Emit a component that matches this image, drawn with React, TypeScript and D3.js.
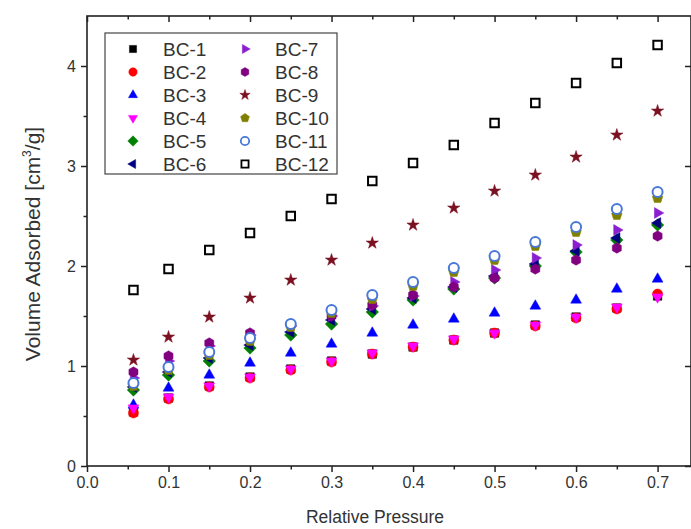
// App.tsx
import React, { useRef, useEffect } from "react";
import * as d3 from "d3";

const WIDTH = 691;
const HEIGHT = 529;
const MARGIN = { top: 16, right: 0, bottom: 63, left: 87 };

// relative pressure steps (first point read slightly above 0.05)
const pressures = [0.057, 0.1, 0.15, 0.2, 0.25, 0.3, 0.35, 0.4, 0.45, 0.5, 0.55, 0.6, 0.65, 0.7];

const bc1 = [0.54, 0.68, 0.8, 0.89, 0.97, 1.05, 1.12, 1.19, 1.26, 1.33, 1.41, 1.49, 1.58, 1.7];
const bc2 = [0.53, 0.67, 0.79, 0.88, 0.96, 1.04, 1.12, 1.19, 1.26, 1.33, 1.4, 1.48, 1.57, 1.72];
const bc3 = [0.61, 0.78, 0.91, 1.03, 1.13, 1.22, 1.33, 1.41, 1.47, 1.53, 1.6, 1.66, 1.77, 1.87];
const bc4 = [0.58, 0.69, 0.8, 0.89, 0.97, 1.05, 1.13, 1.2, 1.27, 1.33, 1.41, 1.49, 1.59, 1.69];
const bc5 = [0.76, 0.91, 1.05, 1.18, 1.31, 1.42, 1.54, 1.66, 1.77, 1.88, 2.0, 2.14, 2.26, 2.41];
const bc6 = [0.79, 0.94, 1.08, 1.21, 1.34, 1.46, 1.57, 1.68, 1.79, 1.9, 2.02, 2.15, 2.28, 2.43];
const bc7 = [0.88, 1.05, 1.2, 1.31, 1.4, 1.5, 1.6, 1.7, 1.84, 1.96, 2.08, 2.21, 2.36, 2.53];
const bc8 = [0.94, 1.1, 1.23, 1.33, 1.41, 1.5, 1.61, 1.71, 1.79, 1.88, 1.97, 2.06, 2.18, 2.3];
const bc9 = [1.06, 1.29, 1.49, 1.68, 1.86, 2.06, 2.23, 2.41, 2.58, 2.75, 2.91, 3.09, 3.31, 3.55];
const bc10 = [0.8, 0.96, 1.11, 1.25, 1.39, 1.53, 1.67, 1.8, 1.94, 2.06, 2.2, 2.34, 2.51, 2.68];
const bc11 = [0.83, 0.99, 1.14, 1.28, 1.42, 1.56, 1.71, 1.84, 1.98, 2.1, 2.24, 2.39, 2.57, 2.74];
const bc12 = [1.76, 1.97, 2.16, 2.33, 2.5, 2.67, 2.85, 3.03, 3.21, 3.43, 3.63, 3.83, 4.03, 4.21];

const seriesNames = ["BC-1", "BC-2", "BC-3", "BC-4", "BC-5", "BC-6", "BC-7", "BC-8", "BC-9", "BC-10", "BC-11", "BC-12"];
const seriesValues = [bc1, bc2, bc3, bc4, bc5, bc6, bc7, bc8, bc9, bc10, bc11, bc12];
const seriesColors = ["#000000", "#ff0000", "#0000ff", "#ff00ff", "#008000", "#000080", "#8a1fd0", "#800080", "#7a1020", "#808000", "#4a78d8", "#000000"];
const seriesShapes = ["square", "circle", "up", "down", "diamond", "left", "right", "hexagon", "star", "pentagon", "ocircle", "osquare"];

const xTicks = [0, 0.1, 0.2, 0.3, 0.4, 0.5, 0.6, 0.7];
const yTicks = [0, 1, 2, 3, 4];

const FONT = "Arial, 'Liberation Sans', sans-serif";

// regular polygon path centred at 0,0; angle in degrees of first vertex (0 = up)
function polygon(n: number, r: number, angle: number) {
  const pts: [number, number][] = [];
  for (let i = 0; i < n; i++) {
    const a = ((angle + (360 / n) * i) * Math.PI) / 180;
    pts.push([r * Math.sin(a), -r * Math.cos(a)]);
  }
  return "M" + pts.map((p) => p.join(",")).join("L") + "Z";
}

function shapePath(shape: string, r: number) {
  switch (shape) {
    case "square":
    case "osquare":
      return polygon(4, r * 1.2, 45);
    case "circle":
    case "ocircle":
      return d3.symbol(d3.symbolCircle, Math.PI * r * r)() as string;
    case "up":
      return polygon(3, r * 1.25, 0);
    case "down":
      return polygon(3, r * 1.25, 180);
    case "left":
      return polygon(3, r * 1.25, 270);
    case "right":
      return polygon(3, r * 1.25, 90);
    case "diamond":
      return polygon(4, r * 1.25, 0);
    case "hexagon":
      return polygon(6, r * 1.05, 0);
    case "pentagon":
      return polygon(5, r * 1.1, 0);
    case "star":
      return d3.symbol(d3.symbolStar, r * r * 1.9)() as string;
    default:
      return "";
  }
}

function isOpen(shape: string) {
  return shape === "ocircle" || shape === "osquare";
}

export default function App() {
  const svgRef = useRef<SVGSVGElement>(null);

  useEffect(() => {
    const svg = d3.select(svgRef.current);
    svg.selectAll("*").remove();

    const x = d3.scaleLinear().domain([0, 0.741]).range([MARGIN.left, WIDTH - MARGIN.right]);
    const y = d3.scaleLinear().domain([0, 4.5]).range([HEIGHT - MARGIN.bottom, MARGIN.top]);

    const axisColor = "#222";

    // frame
    svg
      .append("rect")
      .attr("x", x(0))
      .attr("y", y(4.5))
      .attr("width", x(0.741) - x(0))
      .attr("height", y(0) - y(4.5))
      .attr("fill", "none")
      .attr("stroke", axisColor)
      .attr("stroke-width", 1.6);

    const xMinor = d3.range(0.05, 0.74, 0.1);
    const yMinor = d3.range(0.5, 4.5, 1);

    const styleAxis = (g: any) => {
      g.select(".domain").remove();
      g.selectAll("line").attr("stroke", axisColor).attr("stroke-width", 1.5);
      g.selectAll("text").attr("font-family", FONT).attr("fill", "#333");
    };

    // bottom
    svg
      .append("g")
      .attr("transform", `translate(0,${y(0)})`)
      .call(d3.axisBottom(x).tickValues(xTicks).tickFormat(d3.format(".1f")).tickSize(6).tickPadding(5))
      .call(styleAxis)
      .selectAll("text")
      .attr("font-size", 16);
    svg
      .append("g")
      .attr("transform", `translate(0,${y(0)})`)
      .call(d3.axisBottom(x).tickValues(xMinor).tickFormat(() => "").tickSize(3.5))
      .call(styleAxis);

    // top (ticks inward)
    svg
      .append("g")
      .attr("transform", `translate(0,${y(4.5)})`)
      .call(d3.axisBottom(x).tickValues(xTicks).tickFormat(() => "").tickSize(6))
      .call(styleAxis);
    svg
      .append("g")
      .attr("transform", `translate(0,${y(4.5)})`)
      .call(d3.axisBottom(x).tickValues(xMinor).tickFormat(() => "").tickSize(3.5))
      .call(styleAxis);

    // left
    svg
      .append("g")
      .attr("transform", `translate(${x(0)},0)`)
      .call(d3.axisLeft(y).tickValues(yTicks).tickFormat(d3.format("d")).tickSize(6).tickPadding(5))
      .call(styleAxis)
      .selectAll("text")
      .attr("font-size", 16);
    svg
      .append("g")
      .attr("transform", `translate(${x(0)},0)`)
      .call(d3.axisLeft(y).tickValues(yMinor).tickFormat(() => "").tickSize(3.5))
      .call(styleAxis);

    // right (ticks inward)
    svg
      .append("g")
      .attr("transform", `translate(${x(0.741)},0)`)
      .call(d3.axisLeft(y).tickValues(yTicks).tickFormat(() => "").tickSize(6))
      .call(styleAxis);

    // axis titles
    svg
      .append("text")
      .attr("x", 375)
      .attr("y", 523)
      .attr("text-anchor", "middle")
      .attr("font-family", FONT)
      .attr("font-size", 17.5)
      .attr("fill", "#333")
      .text("Relative Pressure");

    const yTitle = svg
      .append("text")
      .attr("transform", `translate(40,244) rotate(-90)`)
      .attr("text-anchor", "middle")
      .attr("font-family", FONT)
      .attr("font-size", 21)
      .attr("fill", "#333");
    yTitle.append("tspan").text("Volume Adsorbed [cm");
    yTitle.append("tspan").attr("font-size", 12).attr("dy", -9).text("3");
    yTitle.append("tspan").attr("dy", 9).text("/g]");

    // data
    seriesValues.forEach((vals, si) => {
      const shape = seriesShapes[si];
      const color = seriesColors[si];
      const path = shapePath(shape, 5);
      svg
        .append("g")
        .selectAll("path")
        .data(vals.map((v, i) => ({ p: pressures[i], v })))
        .join("path")
        .attr("transform", (d) => `translate(${x(d.p)},${y(d.v)})`)
        .attr("d", path)
        .attr("fill", isOpen(shape) ? "white" : color)
        .attr("stroke", color)
        .attr("stroke-width", isOpen(shape) ? 2 : 0.5);
    });

    // legend
    const legend = svg.append("g").attr("transform", "translate(105,33)");
    legend
      .append("rect")
      .attr("width", 232)
      .attr("height", 141)
      .attr("fill", "white")
      .attr("stroke", "#444")
      .attr("stroke-width", 1.2);

    const items = legend
      .selectAll("g.item")
      .data(seriesNames.map((name, i) => ({ name, i })))
      .join("g")
      .attr("class", "item")
      .attr("transform", (d) => `translate(${d.i < 6 ? 28 : 140},${16 + (d.i % 6) * 23})`);

    items
      .append("path")
      .attr("d", (d) => shapePath(seriesShapes[d.i], 4.2))
      .attr("fill", (d) => (isOpen(seriesShapes[d.i]) ? "white" : seriesColors[d.i]))
      .attr("stroke", (d) => seriesColors[d.i])
      .attr("stroke-width", (d) => (isOpen(seriesShapes[d.i]) ? 1.8 : 0.5));

    items
      .append("text")
      .attr("x", 30)
      .attr("y", 0)
      .attr("dy", "0.36em")
      .attr("font-family", FONT)
      .attr("font-size", 19)
      .attr("fill", "#333")
      .text((d) => d.name);
  }, []);

  return (
    <svg
      ref={svgRef}
      width={WIDTH}
      height={HEIGHT}
      style={{ position: "absolute", left: 0, top: 0, background: "white" }}
    />
  );
}
